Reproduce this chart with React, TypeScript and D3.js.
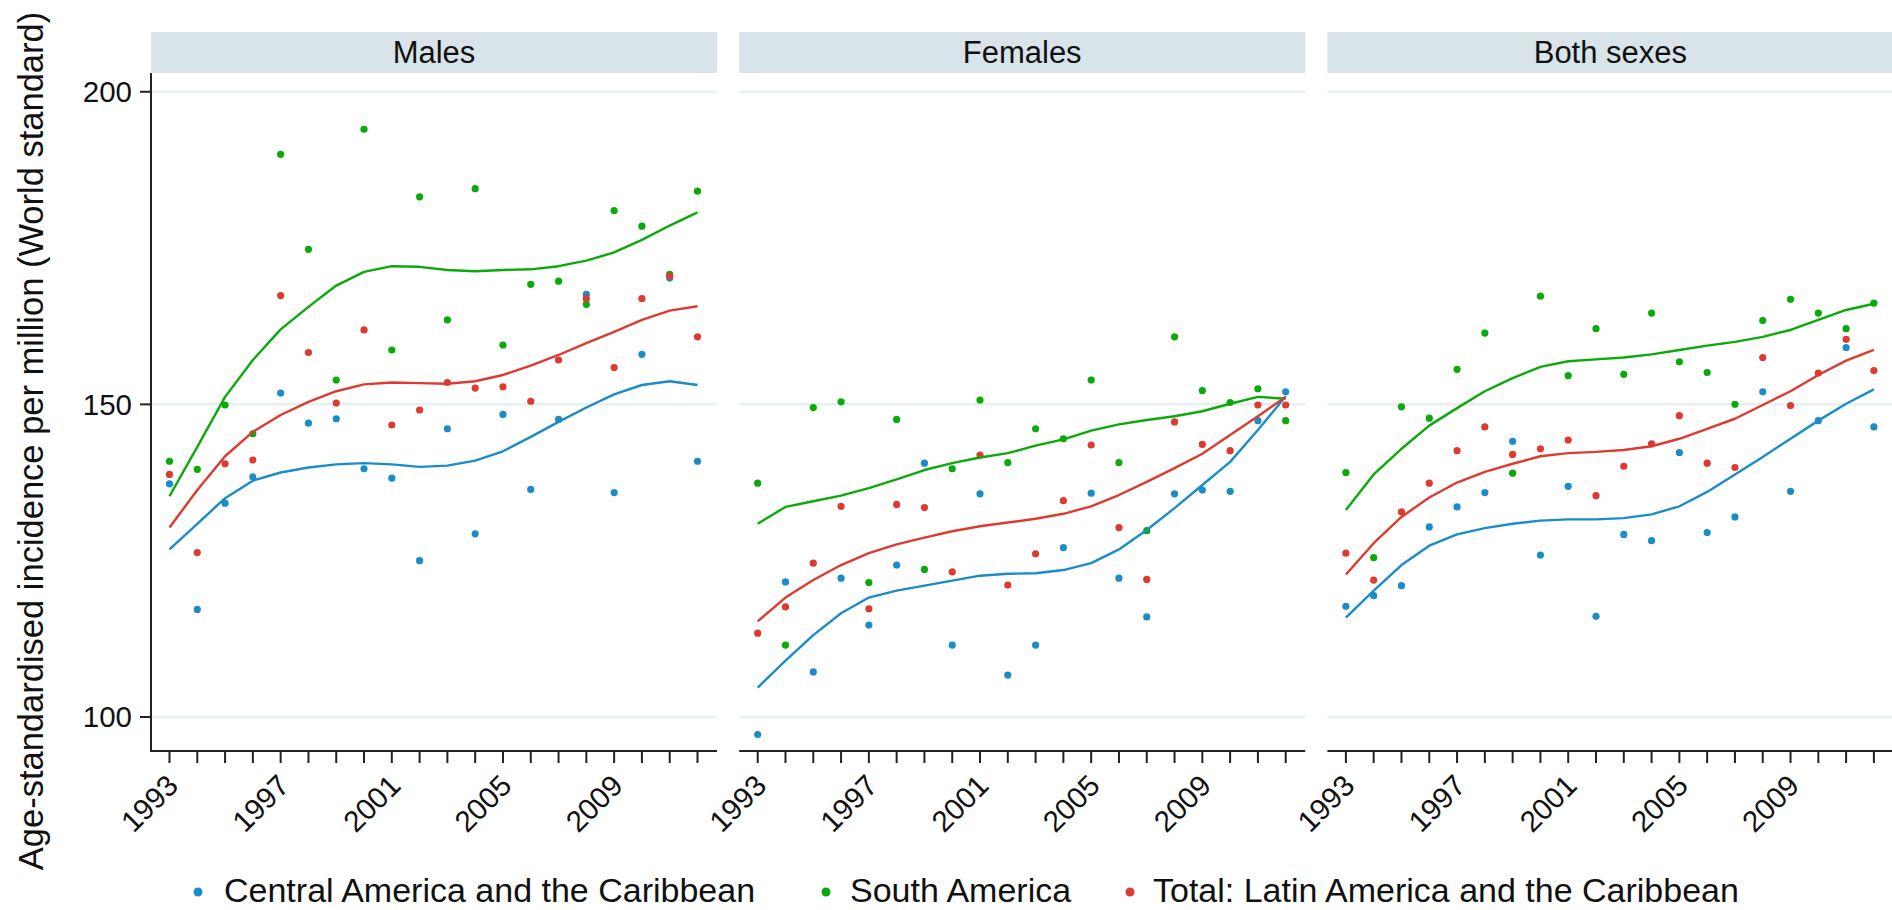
import React from 'react';
import * as d3 from 'd3';

// ---- data -------------------------------------------------------------
const years = [1993, 1994, 1995, 1996, 1997, 1998, 1999, 2000, 2001, 2002,
  2003, 2004, 2005, 2006, 2007, 2008, 2009, 2010, 2011, 2012];
const labelledYears = [1993, 1997, 2001, 2005, 2009];
const yTicks = [100, 150, 200];

const panelTitles = ['Males', 'Females', 'Both sexes'];
const seriesNames = [
  'Central America and the Caribbean',
  'South America',
  'Total: Latin America and the Caribbean',
];
const seriesColors = ['#1a8dc8', '#0aaa0a', '#dd3a30'];

// Observed age-standardised rates
const malesCentral = [137.3, 117.2, 134.2, 138.4, 151.8, 147.0, 147.7, 139.7, 138.2, 125.0,
  146.1, 129.3, 148.4, 136.4, 147.6, 167.6, 135.9, 158.0, 170.2, 140.9];
const malesSouth = [140.9, 139.6, 149.9, 145.3, 190.0, 174.8, 153.9, 194.0, 158.7, 183.2,
  163.5, 184.5, 159.5, 169.2, 169.7, 166.0, 181.0, 178.5, 170.8, 184.1];
const malesTotal = [138.8, 126.3, 140.5, 141.1, 167.4, 158.3, 150.2, 161.9, 146.7, 149.1,
  153.5, 152.6, 152.8, 150.5, 157.1, 166.9, 155.9, 166.9, 170.5, 160.8];

const femalesCentral = [97.2, 121.6, 107.2, 122.2, 114.7, 124.3, 140.6, 111.5, 135.7, 106.7,
  111.5, 127.1, 135.8, 122.2, 116.0, 135.7, 136.3, 136.1, 147.4, 152.0];
const femalesSouth = [137.4, 111.5, 149.5, 150.4, 121.5, 147.6, 123.6, 139.7, 150.7, 140.7,
  146.1, 144.5, 153.9, 140.7, 129.8, 160.8, 152.2, 150.3, 152.5, 147.4];
const femalesTotal = [113.4, 117.6, 124.6, 133.7, 117.3, 134.0, 133.5, 123.2, 141.9, 121.1,
  126.1, 134.6, 143.5, 130.3, 122.0, 147.2, 143.6, 142.6, 149.9, 149.9];

const bothCentral = [117.7, 119.4, 121.0, 130.4, 133.6, 135.9, 144.1, 125.9, 136.9, 116.1,
  129.2, 128.2, 142.3, 129.5, 132.0, 152.0, 136.1, 147.4, 159.1, 146.4];
const bothSouth = [139.1, 125.5, 149.6, 147.8, 155.6, 161.4, 139.0, 167.3, 154.6, 162.1,
  154.8, 164.6, 156.8, 155.1, 150.0, 163.4, 166.8, 164.6, 162.1, 166.2];
const bothTotal = [126.2, 121.9, 132.8, 137.4, 142.6, 146.4, 142.0, 142.9, 144.3, 135.4,
  140.1, 143.7, 148.2, 140.6, 139.9, 157.5, 149.8, 155.0, 160.4, 155.4];

// Smoothed trends
const malesCentralFit = [126.8, 130.9, 135.0, 137.8, 139.1, 139.9, 140.4, 140.6, 140.4, 140.0,
  140.2, 141.0, 142.5, 144.8, 147.2, 149.5, 151.6, 153.1, 153.7, 153.1];
const malesSouthFit = [135.3, 143.2, 151.2, 157.1, 162.0, 165.6, 169.0, 171.2, 172.1, 172.0,
  171.5, 171.3, 171.5, 171.6, 172.1, 173.0, 174.3, 176.3, 178.6, 180.7];
const malesTotalFit = [130.3, 136.3, 141.7, 145.6, 148.3, 150.4, 152.1, 153.2, 153.5, 153.4,
  153.3, 153.7, 154.7, 156.2, 157.9, 159.8, 161.6, 163.5, 165.0, 165.7];

const femalesCentralFit = [104.7, 109.0, 113.1, 116.6, 119.1, 120.2, 121.0, 121.8, 122.6, 122.9,
  123.0, 123.5, 124.6, 126.8, 129.9, 133.4, 137.1, 140.8, 145.9, 151.3];
const femalesSouthFit = [130.9, 133.6, 134.5, 135.4, 136.6, 138.0, 139.5, 140.6, 141.5, 142.2,
  143.4, 144.4, 145.8, 146.8, 147.5, 148.1, 148.9, 150.1, 151.2, 150.9];
const femalesTotalFit = [115.3, 119.1, 121.9, 124.3, 126.2, 127.6, 128.7, 129.7, 130.5, 131.1,
  131.7, 132.5, 133.7, 135.5, 137.6, 139.8, 142.1, 145.1, 148.1, 151.2];

const bothCentralFit = [115.9, 120.2, 124.3, 127.4, 129.2, 130.2, 130.9, 131.4, 131.6, 131.6,
  131.8, 132.4, 133.7, 136.0, 138.8, 141.6, 144.5, 147.4, 150.1, 152.4];
const bothSouthFit = [133.1, 138.8, 142.9, 146.6, 149.4, 152.1, 154.2, 156.0, 156.9, 157.2,
  157.5, 158.0, 158.7, 159.4, 160.0, 160.8, 161.9, 163.5, 165.1, 166.1];
const bothTotalFit = [122.8, 127.8, 132.0, 135.1, 137.5, 139.2, 140.5, 141.7, 142.2, 142.4,
  142.7, 143.3, 144.5, 146.1, 147.7, 149.9, 152.1, 154.7, 157.0, 158.7];

const panelPoints = [
  [malesCentral, malesSouth, malesTotal],
  [femalesCentral, femalesSouth, femalesTotal],
  [bothCentral, bothSouth, bothTotal],
];
const panelFits = [
  [malesCentralFit, malesSouthFit, malesTotalFit],
  [femalesCentralFit, femalesSouthFit, femalesTotalFit],
  [bothCentralFit, bothSouthFit, bothTotalFit],
];

// ---- layout -----------------------------------------------------------
const W = 1892;
const H = 910;
const FONT = '"Liberation Sans", Arial, Helvetica, sans-serif';
const PANEL_LEFT = 151;
const PANEL_STEP = 588.2;
const PANEL_W = 566;
const PAD_L = 18.5;
const PAD_R = 19.5;
const STRIP_TOP = 32;
const PLOT_TOP = 73;
const PLOT_BOTTOM = 752;

const y = d3.scaleLinear().domain([94.4, 203]).range([PLOT_BOTTOM, PLOT_TOP]);

function Panel({ index }: { index: number }) {
  const left = PANEL_LEFT + index * PANEL_STEP;
  const x = d3.scaleLinear().domain([1993, 2012]).range([left + PAD_L, left + PANEL_W - PAD_R]);
  const line = d3.line<number>().x((_, i) => x(years[i])).y((v) => y(v));
  const axisY = PLOT_BOTTOM - 1;

  return (
    <g>
      {/* strip header */}
      <rect x={left} y={STRIP_TOP} width={PANEL_W} height={PLOT_TOP - STRIP_TOP} fill="#d9e4ea" />
      <text x={left + PANEL_W / 2} y={STRIP_TOP + (PLOT_TOP - STRIP_TOP) / 2} textAnchor="middle"
        dominantBaseline="central" fontSize={31} fill="#111">{panelTitles[index]}</text>

      {/* gridlines */}
      {yTicks.map((t) => (
        <line key={t} x1={left} x2={left + PANEL_W} y1={y(t)} y2={y(t)} stroke="#e7f0f0" strokeWidth={2.5} />
      ))}

      {/* observed points */}
      {panelPoints[index].map((vals, s) => (
        <g key={s} fill={seriesColors[s]}>
          {vals.map((v, i) => (
            <circle key={i} cx={x(years[i])} cy={y(v)} r={3.6} />
          ))}
        </g>
      ))}

      {/* smoothed trends */}
      {panelFits[index].map((vals, s) => (
        <path key={s} d={line(vals) || ''} fill="none" stroke={seriesColors[s]} strokeWidth={2.4}
          strokeLinejoin="round" />
      ))}

      {/* x axis */}
      <line x1={left} x2={left + PANEL_W} y1={axisY} y2={axisY} stroke="#222" strokeWidth={2} />
      {years.map((yr) => (
        <line key={yr} x1={x(yr)} x2={x(yr)} y1={axisY} y2={axisY + 12} stroke="#222" strokeWidth={2} />
      ))}
      {labelledYears.map((yr) => (
        <text key={yr} transform={`translate(${x(yr) + 3},${axisY + 29}) rotate(-45)`} textAnchor="end"
          dominantBaseline="central" fontSize={29.5} fill="#111">{yr}</text>
      ))}

      {/* y axis on the first panel only */}
      {index === 0 && (
        <g>
          <line x1={left} x2={left} y1={PLOT_TOP} y2={PLOT_BOTTOM} stroke="#222" strokeWidth={2} />
          {yTicks.map((t) => (
            <g key={t}>
              <line x1={left - 11} x2={left} y1={y(t)} y2={y(t)} stroke="#222" strokeWidth={2} />
              <text x={left - 19} y={y(t)} textAnchor="end" dominantBaseline="central" fontSize={29.5}
                fill="#111">{t}</text>
            </g>
          ))}
        </g>
      )}
    </g>
  );
}

const legendDotX = [198, 826, 1130];
const legendTextX = [224, 850, 1153];

export default function App() {
  return (
    <svg width={W} height={H} style={{ position: 'absolute', left: 0, top: 0, background: '#fff' }}
      fontFamily={FONT}>
      <rect width={W} height={H} fill="#fff" />
      {panelTitles.map((_, i) => (
        <Panel key={i} index={i} />
      ))}
      <text transform={`translate(43,441) rotate(-90)`} textAnchor="middle" fontSize={34.5} fill="#111">
        Age-standardised incidence per million (World standard)
      </text>
      {seriesNames.map((name, s) => (
        <g key={s}>
          <circle cx={legendDotX[s]} cy={892} r={4.5} fill={seriesColors[s]} />
          <text x={legendTextX[s]} y={902} fontSize={34} fill="#111">{name}</text>
        </g>
      ))}
    </svg>
  );
}
